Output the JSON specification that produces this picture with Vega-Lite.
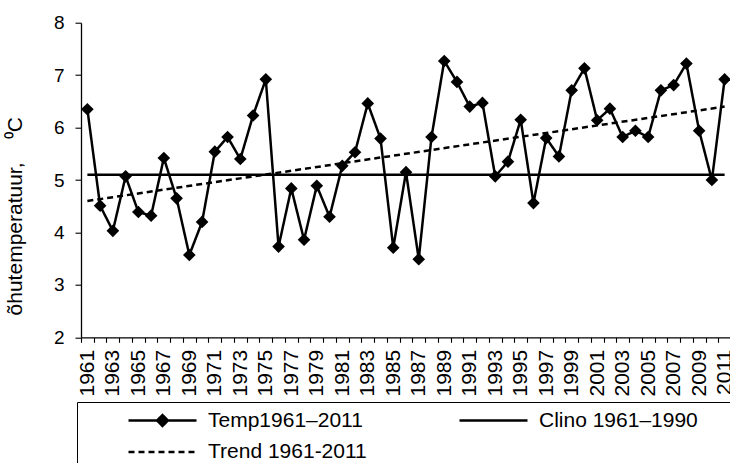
{
  "$schema": "https://vega.github.io/schema/vega-lite/v6.json",
  "width": 650,
  "height": 314.6,
  "autosize": {"type": "none"},
  "padding": {"left": 81, "top": 22.7, "right": 0, "bottom": 125.7},
  "background": "white",
  "config": {
    "view": {"stroke": null},
    "font": "Liberation Sans",
    "axis": {"domainColor": "black", "tickColor": "black", "labelColor": "black", "titleColor": "black", "grid": false, "domainWidth": 1.3, "tickWidth": 1.1, "labelFont": "Liberation Sans", "titleFont": "Liberation Sans"},
    "legend": {"strokeColor": "black", "strokeWidth": 1}
  },
  "data": {
    "values": [
      {"series": "Temp1961–2011", "year": 1961, "value": 6.35},
      {"series": "Temp1961–2011", "year": 1962, "value": 4.51},
      {"series": "Temp1961–2011", "year": 1963, "value": 4.03},
      {"series": "Temp1961–2011", "year": 1964, "value": 5.07},
      {"series": "Temp1961–2011", "year": 1965, "value": 4.39},
      {"series": "Temp1961–2011", "year": 1966, "value": 4.32},
      {"series": "Temp1961–2011", "year": 1967, "value": 5.42},
      {"series": "Temp1961–2011", "year": 1968, "value": 4.65},
      {"series": "Temp1961–2011", "year": 1969, "value": 3.57},
      {"series": "Temp1961–2011", "year": 1970, "value": 4.2},
      {"series": "Temp1961–2011", "year": 1971, "value": 5.54},
      {"series": "Temp1961–2011", "year": 1972, "value": 5.82},
      {"series": "Temp1961–2011", "year": 1973, "value": 5.4},
      {"series": "Temp1961–2011", "year": 1974, "value": 6.23},
      {"series": "Temp1961–2011", "year": 1975, "value": 6.92},
      {"series": "Temp1961–2011", "year": 1976, "value": 3.73},
      {"series": "Temp1961–2011", "year": 1977, "value": 4.84},
      {"series": "Temp1961–2011", "year": 1978, "value": 3.86},
      {"series": "Temp1961–2011", "year": 1979, "value": 4.89},
      {"series": "Temp1961–2011", "year": 1980, "value": 4.3},
      {"series": "Temp1961–2011", "year": 1981, "value": 5.27},
      {"series": "Temp1961–2011", "year": 1982, "value": 5.53},
      {"series": "Temp1961–2011", "year": 1983, "value": 6.46},
      {"series": "Temp1961–2011", "year": 1984, "value": 5.79},
      {"series": "Temp1961–2011", "year": 1985, "value": 3.71},
      {"series": "Temp1961–2011", "year": 1986, "value": 5.15},
      {"series": "Temp1961–2011", "year": 1987, "value": 3.49},
      {"series": "Temp1961–2011", "year": 1988, "value": 5.82},
      {"series": "Temp1961–2011", "year": 1989, "value": 7.27},
      {"series": "Temp1961–2011", "year": 1990, "value": 6.87},
      {"series": "Temp1961–2011", "year": 1991, "value": 6.4},
      {"series": "Temp1961–2011", "year": 1992, "value": 6.47},
      {"series": "Temp1961–2011", "year": 1993, "value": 5.07},
      {"series": "Temp1961–2011", "year": 1994, "value": 5.35},
      {"series": "Temp1961–2011", "year": 1995, "value": 6.15},
      {"series": "Temp1961–2011", "year": 1996, "value": 4.56},
      {"series": "Temp1961–2011", "year": 1997, "value": 5.8},
      {"series": "Temp1961–2011", "year": 1998, "value": 5.45},
      {"series": "Temp1961–2011", "year": 1999, "value": 6.71},
      {"series": "Temp1961–2011", "year": 2000, "value": 7.13},
      {"series": "Temp1961–2011", "year": 2001, "value": 6.14},
      {"series": "Temp1961–2011", "year": 2002, "value": 6.36},
      {"series": "Temp1961–2011", "year": 2003, "value": 5.82},
      {"series": "Temp1961–2011", "year": 2004, "value": 5.94},
      {"series": "Temp1961–2011", "year": 2005, "value": 5.82},
      {"series": "Temp1961–2011", "year": 2006, "value": 6.71},
      {"series": "Temp1961–2011", "year": 2007, "value": 6.81},
      {"series": "Temp1961–2011", "year": 2008, "value": 7.22},
      {"series": "Temp1961–2011", "year": 2009, "value": 5.94},
      {"series": "Temp1961–2011", "year": 2010, "value": 5.0},
      {"series": "Temp1961–2011", "year": 2011, "value": 6.92},
      {"series": "Clino 1961–1990", "year": 1961, "value": 5.1},
      {"series": "Clino 1961–1990", "year": 2011, "value": 5.1},
      {"series": "Trend 1961-2011", "year": 1961, "value": 4.6},
      {"series": "Trend 1961-2011", "year": 2011, "value": 6.4}
    ]
  },
  "layer": [
    {
      "mark": {"type": "line", "strokeWidth": 2.5, "color": "black"},
      "encoding": {
        "x": {
          "field": "year", "type": "ordinal", "bandPosition": 0.5,
          "scale": {"type": "band", "paddingInner": 0, "paddingOuter": 0},
          "axis": {
            "title": null, "labelAngle": -90, "labelAlign": "right", "labelBaseline": "middle",
            "labelExpr": "datum.value % 2 == 1 ? datum.label : ''",
            "labelOverlap": false, "labelFontSize": 21, "tickSize": 5, "tickBand": "extent", "labelPadding": 7
          }
        },
        "y": {
          "field": "value", "type": "quantitative",
          "scale": {"domain": [2, 8], "nice": false, "zero": false},
          "axis": {
            "values": [2, 3, 4, 5, 6, 7, 8], "tickSize": 6, "labelPadding": 11, "labelFontSize": 19,
            "title": "õhutemperatuur,\u00a0\u00a0\u00a0\u00a0⁰C", "titleFontSize": 21, "titleFontWeight": "normal",
            "titleX": -66, "titleY": 193, "titleAngle": 270, "titleAlign": "center", "titleBaseline": "middle"
          }
        },
        "strokeDash": {
          "field": "series", "type": "nominal",
          "scale": {"domain": ["Temp1961–2011", "Trend 1961-2011", "Clino 1961–1990"], "range": [[1, 0], [6, 4], [1, 0]]},
          "legend": {
            "title": "\u00a0", "titleOrient": "right", "titlePadding": 45, "titleFontSize": 2,
            "orient": "none", "legendX": -4, "legendY": 379.3, "columns": 2,
            "padding": 8, "symbolSize": 4624, "symbolStrokeWidth": 2.5, "symbolStrokeColor": "black",
            "symbolType": "stroke", "symbolOffset": 42, "labelOffset": 10, "clipHeight": 21,
            "rowPadding": 9.5, "columnPadding": 49, "labelFontSize": 21, "labelFont": "Liberation Sans",
            "labelLimit": 0, "labelColor": "black", "labelBaseline": "middle",
            "encode": {
              "symbols": {
                "update": {
                  "shape": {"signal": "datum.value == 'Temp1961–2011' ? 'M-1,0H1M0,-0.16L0.16,0L0,0.16L-0.16,0Z' : 'M-1,0H1'"},
                  "fill": {"value": "black"},
                  "stroke": {"value": "black"},
                  "strokeWidth": {"value": 2.5},
                  "opacity": {"value": 1}
                }
              }
            }
          }
        }
      }
    },
    {
      "transform": [{"filter": "datum.series == 'Temp1961–2011'"}],
      "mark": {"type": "point", "shape": "diamond", "filled": true, "color": "black", "size": 160, "opacity": 1},
      "encoding": {
        "x": {"field": "year", "type": "ordinal", "bandPosition": 0.5},
        "y": {"field": "value", "type": "quantitative"}
      }
    }
  ]
}
